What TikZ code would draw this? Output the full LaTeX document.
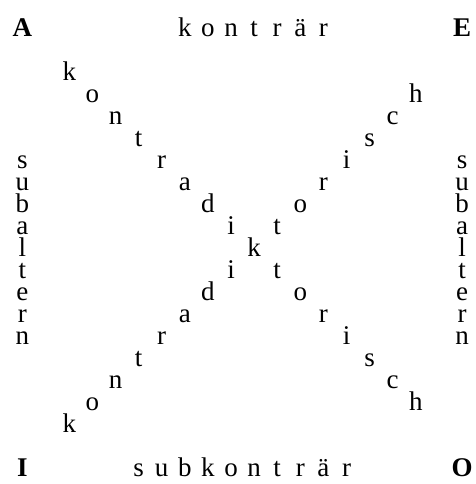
\documentclass[tikz,border=0pt]{standalone}
\usepackage{fontspec}
\setmainfont{Liberation Serif}
\usetikzlibrary{positioning}
\tikzset{
  letter/.style={inner sep=0pt, anchor=base, font=\fontsize{27}{27}\selectfont},
  corner/.style={letter, font=\fontsize{27}{27}\selectfont\bfseries}
}

\begin{document}
\begin{tikzpicture}[x=23.1pt, y=-22pt]
    \useasboundingbox (0pt,0pt) rectangle (475pt,-484pt);
    % corners of the square
    \node[corner] (A) at (0.97,1.66) {A};
    \node[corner] (E) at (20,1.66) {E};
    \node[corner] (I) at (0.97,21.66) {I};
    \node[corner] (O) at (20,21.66) {O};
    % top and bottom sides
    \foreach \c [count=\n from 0] in {k,o,n,t,r,ä,r}
      \node[letter] (ktr-\n) at (8+\n,1.66) {\c};
    \foreach \c [count=\n from 0] in {s,u,b,k,o,n,t,r,ä,r}
      \node[letter] (sktr-\n) at (6+\n,21.66) {\c};
    % left and right sides
    \foreach \c [count=\n from 0] in {s,u,b,a,l,t,e,r,n} {
      \node[letter] (subl-\n) at (0.97,7.66+\n) {\c};
      \node[letter] (subr-\n) at (20,7.66+\n) {\c};
    }
    % diagonals, sharing the middle k
    \foreach \c [count=\n from 0] in {k,o,n,t,r,a,d,i,k,t,o,r,i,s,c,h} {
      \node[letter] (dia-\n) at (3+\n,3.66+\n) {\c};
      \ifnum\n=8\else
        \node[letter] (dib-\n) at (3+\n,19.66-\n) {\c};
      \fi
    }
  \end{tikzpicture}
\end{document}
